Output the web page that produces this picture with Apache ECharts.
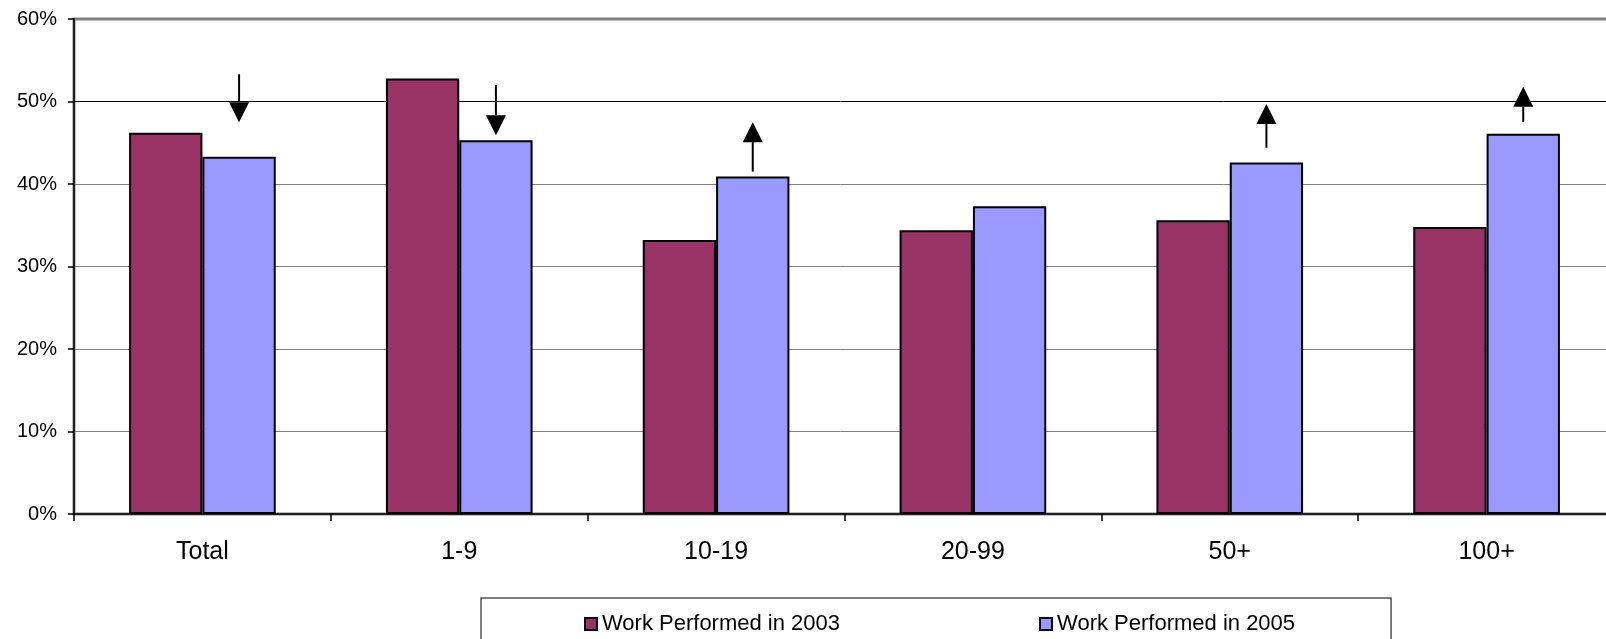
<!DOCTYPE html>
<html>
<head>
<meta charset="utf-8">
<title>Work Performed 2003 vs 2005</title>
<script src="https://cdn.jsdelivr.net/npm/echarts@6/dist/echarts.min.js"></script>
<style>
  html, body { margin: 0; padding: 0; background: #ffffff; }
  #chart { width: 1606px; height: 639px; }
</style>
</head>
<body>
<div id="chart"></div>
<script>
// Share of work performed, by size group
const categories = ['Total', '1-9', '10-19', '20-99', '50+', '100+'];
const work2003 = [46.2, 52.8, 33.2, 34.4, 35.6, 34.8];
const work2005 = [43.3, 45.3, 40.9, 37.3, 42.6, 46.1];
const seriesNames = ['Work Performed in 2003', 'Work Performed in 2005'];
const yTicks = [0, 10, 20, 30, 40, 50, 60];

// Trend arrows above the 2005 bars: start and end level (in %), null where none
const arrowFrom = [53.3, 52.0, 41.5, null, 44.4, 47.5];
const arrowTo   = [47.5, 45.9, 47.5, null, 49.7, 51.8];

const FONT = 'Arial, "Liberation Sans", sans-serif';
const GAP = 0.429; // barCategoryGap as a fraction

const arrowData = [];
categories.forEach((c, i) => {
  if (arrowFrom[i] != null) arrowData.push([i, arrowFrom[i], arrowTo[i]]);
});

function renderArrow(params, api) {
  const idx = api.value(0);
  const from = api.coord([idx, api.value(1)]);
  const to = api.coord([idx, api.value(2)]);
  const band = api.size([1, 0])[0];
  // center of the second bar in the group
  const x = from[0] + band * (1 - GAP) / 4;
  const head = 20, half = 10;
  const up = to[1] < from[1];
  const baseY = up ? to[1] + head : to[1] - head;
  return {
    type: 'group',
    children: [
      { type: 'line', shape: { x1: x, y1: from[1], x2: x, y2: baseY },
        style: { stroke: '#000', lineWidth: 2 } },
      { type: 'polygon', shape: { points: [[x, to[1]], [x - half, baseY], [x + half, baseY]] },
        style: { fill: '#000' } }
    ]
  };
}

const chart = echarts.init(document.getElementById('chart'), null, { renderer: 'canvas' });
chart.setOption({
  animation: false,
  backgroundColor: '#ffffff',
  textStyle: { fontFamily: FONT, color: '#000' },
  grid: {
    left: 74, right: -9, top: 19, bottom: 125,
    outerBoundsMode: 'none',
    show: true, borderColor: '#808080', borderWidth: 3, backgroundColor: 'transparent'
  },
  legend: {
    data: seriesNames,
    left: 481, top: 598,
    padding: [15, 96, 40, 103],
    itemGap: 199,
    itemWidth: 12, itemHeight: 12,
    icon: 'rect',
    itemStyle: { borderColor: '#000', borderWidth: 2 },
    borderColor: '#555555', borderWidth: 1.5,
    textStyle: { fontFamily: FONT, fontSize: 22, color: '#000' },
    selectedMode: false
  },
  xAxis: {
    type: 'category',
    data: categories,
    boundaryGap: true,
    axisLine: { lineStyle: { color: '#000', width: 1.5 } },
    axisTick: { show: true, length: 7, lineStyle: { color: '#000', width: 1.5 } },
    axisLabel: { fontFamily: FONT, fontSize: 25, color: '#000', margin: 26 },
    splitLine: { show: false }
  },
  yAxis: {
    type: 'value',
    min: yTicks[0], max: yTicks[yTicks.length - 1], interval: 10,
    axisLine: { show: true, lineStyle: { color: '#000', width: 1.5 } },
    axisTick: { show: true, length: 6, lineStyle: { color: '#000', width: 1.5 } },
    axisLabel: { fontFamily: FONT, fontSize: 20, color: '#000', margin: 17,
      formatter: v => v + '%' },
    splitLine: { show: true, lineStyle: {
      color: ['#808080', '#808080', '#808080', '#808080', '#808080', '#000000', '#808080'], width: 1 } }
  },
  series: [
    {
      name: seriesNames[0], type: 'bar', data: work2003,
      barGap: '0%', barCategoryGap: (GAP * 100) + '%',
      itemStyle: { color: '#993366', borderColor: '#000', borderWidth: 2 }
    },
    {
      name: seriesNames[1], type: 'bar', data: work2005,
      barGap: '0%', barCategoryGap: (GAP * 100) + '%',
      itemStyle: { color: '#9999FF', borderColor: '#000', borderWidth: 2 }
    },
    {
      type: 'custom', data: arrowData, renderItem: renderArrow,
      encode: { x: 0, y: [1, 2] }, silent: true, z: 5
    }
  ]
});
</script>
</body>
</html>
